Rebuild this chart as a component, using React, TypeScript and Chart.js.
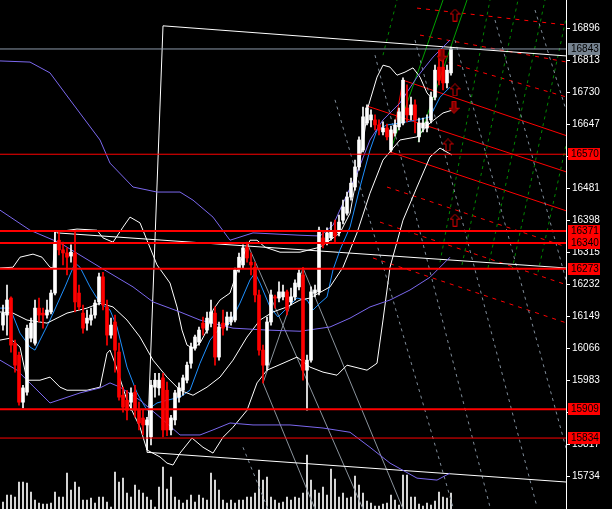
import { useEffect, useRef } from "react";
import { Chart, registerables } from "chart.js";
Chart.register(...registerables);

// ---- candle data (index 0..112) ----
const opens = [16127,16153,16197,16080,16049,15927,15953,16093,16080,16171,16158,16153,16161,16210,16347,16322,16314,16306,16314,16210,16158,16132,16140,16153,16187,16252,16174,16101,16135,16057,15945,15932,15927,15953,15906,15886,15868,15837,15966,15964,15990,15958,15855,15881,15940,15958,15984,16028,16067,16083,16132,16114,16132,16158,16044,16132,16127,16135,16140,16275,16283,16329,16290,16277,16205,16062,16023,16135,16200,16197,16200,16213,16187,16200,16226,16257,16010,16036,16210,16213,16353,16342,16353,16373,16366,16399,16417,16459,16485,16537,16581,16651,16659,16659,16646,16628,16638,16581,16625,16641,16651,16690,16672,16698,16615,16638,16638,16659,16718,16796,16796,16755,16781];
const highs = [16179,16231,16200,16088,16057,15971,16127,16145,16192,16197,16171,16192,16218,16368,16368,16342,16327,16335,16368,16231,16179,16166,16171,16192,16262,16264,16192,16145,16153,16080,15966,15958,15964,15971,15927,15906,15888,15984,16002,16002,16002,15979,15893,15958,15977,15997,16031,16080,16101,16122,16148,16161,16192,16174,16135,16166,16161,16161,16275,16314,16335,16342,16314,16290,16218,16075,16148,16218,16205,16239,16231,16218,16223,16244,16270,16277,16049,16226,16231,16381,16373,16379,16394,16399,16412,16451,16472,16508,16555,16615,16692,16698,16685,16672,16659,16654,16648,16643,16659,16690,16768,16750,16718,16711,16664,16664,16672,16731,16801,16840,16820,16801,16848];
const lows = [16114,16101,16057,16005,15919,15912,15945,16083,16075,16135,16119,16145,16156,16205,16309,16283,16257,16290,16161,16166,16106,16114,16127,16145,16179,16166,16075,16093,16005,15932,15901,15881,15906,15888,15855,15842,15803,15816,15940,15945,15837,15840,15842,15868,15927,15945,15977,16015,16062,16075,16101,16106,16122,16023,16036,16101,16114,16127,16135,16264,16275,16290,16257,16187,16049,15977,16010,16127,16171,16187,16192,16153,16179,16192,16218,15984,15906,16031,16200,16205,16327,16335,16347,16342,16358,16389,16412,16451,16477,16529,16576,16646,16641,16633,16620,16620,16607,16576,16617,16633,16646,16654,16659,16625,16602,16628,16628,16651,16711,16750,16737,16742,16775];
const closes = [16158,16192,16075,16023,15927,15964,16119,16132,16171,16153,16153,16166,16210,16342,16322,16314,16303,16316,16187,16174,16119,16145,16153,16184,16252,16179,16101,16127,16062,15940,15914,15906,15951,15906,15873,15868,15881,15971,15984,15984,15855,15855,15886,15951,15964,15990,16023,16070,16096,16114,16119,16145,16161,16044,16122,16119,16148,16148,16270,16303,16327,16301,16283,16205,16062,16023,16135,16205,16197,16213,16213,16166,16200,16236,16262,16010,16036,16213,16218,16373,16335,16366,16368,16358,16394,16433,16459,16495,16537,16607,16667,16690,16672,16646,16633,16638,16615,16633,16646,16680,16762,16672,16698,16659,16651,16651,16654,16718,16788,16762,16755,16788,16843];
const volumes = [7,14,14,12,27,27,26,17,9,6,5,5,6,17,12,12,36,19,27,22,9,9,11,6,12,12,7,2,37,27,31,16,12,24,19,16,12,9,2,22,42,20,32,12,9,6,9,14,7,14,11,9,36,29,19,9,6,9,6,9,9,12,12,16,39,29,32,12,9,6,7,12,9,12,11,16,54,29,19,16,22,14,40,30,12,16,11,12,33,24,16,8,6,3,3,5,6,14,9,4,34,34,12,12,5,3,6,4,8,17,12,11,16];

// ---- price axis ----
const yTicks = [16896,16813,16730,16647,16564,16481,16398,16315,16232,16149,16066,15983,15900,15817,15734];
const currentPrice = 16843;
const levelValues = [16570,16371,16340,16273,15909,15834];
const levelWidths = [1,2,2,2,2,1];

// ---- indicator lines [index, price] ----
const bbUpper: number[][] = [[-0.75,16275],[2.5,16277],[4.25,16303],[7.5,16311],[9.75,16303],[11.75,16277],[12.5,16275],[13,16368],[18.5,16376],[23.5,16373],[25,16353],[27.5,16342],[30,16381],[31.75,16407],[34.25,16392],[36,16347],[38.5,16283],[41.75,16236],[43.5,16174],[44.75,16114],[46,16075],[47.5,16067],[49.25,16080],[51,16114],[52.5,16166],[54.25,16192],[56.75,16210],[59.25,16288],[61.75,16347],[63.5,16347],[65.5,16329],[69.25,16316],[74.25,16316],[79.25,16329],[81.75,16347],[84.25,16366],[86.75,16417],[90,16599],[91.25,16692],[93.5,16770],[95,16801],[96.75,16796],[98.5,16775],[100.5,16783],[102.5,16794],[104.25,16770],[106,16729],[107.5,16711]];
const bbMiddle: number[][] = [[-0.75,16161],[2.5,16158],[6,16140],[11,16132],[16,16158],[21,16171],[24.25,16184],[27.5,16174],[31,16140],[34.25,16096],[37.5,16036],[41,15992],[44.25,15958],[47.5,15945],[51,15966],[54.25,15992],[57.5,16036],[61,16096],[64.25,16140],[67.5,16161],[71,16174],[74.25,16192],[76.75,16197],[81.75,16226],[85,16277],[88.5,16366],[91.75,16469],[95,16555],[99.25,16607],[103.5,16615],[106.75,16651],[110,16677],[112.5,16685]];
const bbLower: number[][] = [[-0.75,16088],[1.75,16093],[4.25,16070],[6,15984],[9.25,15984],[11.75,15992],[14.25,15966],[16,15958],[21,15958],[24.25,15966],[26,16054],[26.75,16062],[28,16028],[31,15932],[34.25,15862],[36,15803],[39.25,15785],[41,15769],[42.5,15764],[44.25,15795],[47.25,15834],[50,15810],[52.5,15795],[55,15836],[57.5,15862],[61,15906],[63.5,15977],[66,16010],[70,16028],[73.5,16044],[76.75,16018],[80,16005],[83.5,15997],[86,16023],[91,16010],[93.5,16028],[95,16140],[96.75,16277],[100,16399],[103.5,16485],[106.75,16563],[109.25,16586],[112.25,16568]];
const maFast: number[][] = [[-0.75,16171],[1.75,16171],[4.25,16106],[6.75,16070],[8,16062],[11.75,16140],[15.5,16226],[18,16288],[19.25,16277],[21.75,16226],[24.25,16184],[26.75,16166],[28.5,16122],[31,16018],[33.5,15951],[36,15906],[38.5,15925],[41,15932],[44.25,15940],[46.75,15958],[49.25,16028],[51.75,16088],[54.25,16119],[56.75,16132],[59.25,16184],[61.75,16244],[63,16262],[64.25,16236],[66.75,16174],[68.75,16148],[71.75,16179],[73.5,16197],[76,16192],[77.5,16166],[79.25,16184],[81,16200],[82.5,16270],[84.25,16322],[86.75,16381],[89.25,16485],[91.75,16581],[93.5,16633],[96,16646],[99.25,16651],[103.5,16659],[106.75,16667],[109.25,16718],[111.75,16744]];
const longUpper: number[][] = [[-0.75,16812],[6.75,16809],[11.75,16781],[16.75,16711],[24.25,16607],[26.75,16547],[32.5,16485],[38.5,16472],[44.25,16472],[47.5,16451],[52.5,16407],[56.75,16347],[62.5,16366],[74.25,16360],[79.25,16358],[82.5,16386],[85,16443],[88.5,16521],[91.75,16607],[95,16659],[99.25,16703],[103.5,16770],[107.5,16822],[111.75,16866]];
const longMiddle: number[][] = [[-0.75,16425],[6.75,16373],[14.25,16340],[24.25,16277],[32.5,16226],[37.5,16187],[44.25,16161],[49.25,16140],[57.5,16119],[66,16114],[74.25,16111],[81.75,16122],[86.75,16145],[91.75,16174],[96.75,16192],[101.75,16218],[106.75,16251],[111.75,16303]];
const longLower: number[][] = [[-0.75,16036],[3.5,16010],[11.75,15925],[19.25,15951],[24.25,15964],[26.75,15977],[29.25,15966],[34.25,15932],[39.25,15888],[44.25,15842],[49.25,15842],[52.5,15855],[56.75,15873],[62.5,15868],[71.75,15868],[80,15860],[86.75,15849],[91.75,15810],[96.75,15769],[103.5,15730],[108.5,15725],[111.75,15743]];

// ---- drawn objects [index, price, index, price, ...] ----
const whiteTrendLines: number[][] = [[13.5,16366,140.75,16275],[36,15797,40,16903,140.75,16825],[36,15797,140.75,15720]];
const graySolidLines: number[][] = [[61,16340,90,15650],[75,16275,100,15650],[65,15977,75,16275],[65,15977,78,15650]];
const grayDashedLines: number[][] = [[60,15810,66.25,15650],[83,16711,112.5,15655],[93,16827,121.75,15655],[103,16866,133.5,15655],[113,16866,142.25,15751],[123,16918,140.75,16244],[133,16944,140.75,16685]];
const greenSolidLines: number[][] = [[96.75,16576,110,16970],[103.75,16602,116,16970]];
const greenDashedLines: number[][] = [[109.25,16290,121.75,16970],[114.75,16283,128.75,16970],[121.25,16275,135.5,16970],[127.25,16270,141.75,16970],[133.75,16264,148.75,16970],[95,16827,98.5,16970]];
const redSolidLines: number[][] = [[100,16762,141.75,16615],[91,16695,141.75,16521],[96.75,16576,141.75,16420],[96.75,16576,100,16762]];
const redDashedLines: number[][] = [[103.5,16949,141,16905],[104.25,16879,141,16809],[109.25,16814,141,16718],[96,16485,141,16329],[94.25,16394,141,16231],[92.5,16301,141,16132]];
const upArrows: number[][] = [[113,16931],[113,16737],[111.25,16594],[113,16399]];
const downArrows: number[][] = [[109.75,16827],[112.75,16692]];

const X_MIN = -0.75;
const X_MAX = 140.75;

function flat(arr: number[]) {
  const pts: { x: number; y: number }[] = [];
  for (let k = 0; k < arr.length; k += 2) pts.push({ x: arr[k], y: arr[k + 1] });
  return pts;
}

function makeArrow(down: boolean) {
  const c = document.createElement("canvas");
  c.width = 11;
  c.height = 13;
  const g = c.getContext("2d")!;
  if (down) {
    g.translate(0, 13);
    g.scale(1, -1);
  }
  g.beginPath();
  g.moveTo(5.5, 0.5);
  g.lineTo(10.5, 5.5);
  g.lineTo(7.5, 5.5);
  g.lineTo(7.5, 12.5);
  g.lineTo(3.5, 12.5);
  g.lineTo(3.5, 5.5);
  g.lineTo(0.5, 5.5);
  g.closePath();
  g.fillStyle = down ? "#7a0000" : "#000000";
  g.fill();
  g.strokeStyle = "#d00000";
  g.lineWidth = 1;
  g.stroke();
  return c;
}

export default function App() {
  const ref = useRef<HTMLCanvasElement | null>(null);

  useEffect(() => {
    document.body.style.margin = "0";
    document.body.style.background = "#000";
    const canvas = ref.current;
    if (!canvas) return;

    const line = (pts: { x: number; y: number }[], color: string, width: number, dash: number[] = [], order = 5) => ({
      type: "line" as const,
      data: pts,
      borderColor: color,
      borderWidth: width,
      borderDash: dash,
      pointRadius: 0,
      pointHoverRadius: 0,
      fill: false,
      tension: 0,
      order,
      xAxisID: "x",
      yAxisID: "y",
    });
    const toPts = (a: number[][]) => a.map(([x, y]) => ({ x, y }));

    const up = (i: number) => closes[i] >= opens[i];
    const datasets: any[] = [];

    datasets.push({
      type: "bar",
      data: volumes.map((v, i) => ({ x: i, y: v })),
      backgroundColor: "#ffffff",
      barThickness: 1,
      grouped: false,
      yAxisID: "yv",
      xAxisID: "x",
      order: 20,
    });

    [[whiteTrendLines, "#ffffff", 1, []], [graySolidLines, "#8a939c", 1, []], [grayDashedLines, "#7f8c99", 1, [3, 4]],
     [greenSolidLines, "#00a000", 1, []], [greenDashedLines, "#008800", 1, [3, 4]],
     [redSolidLines, "#ff0000", 1, []], [redDashedLines, "#ff0000", 1, [4, 5]]].forEach(([arr, col, w, d]: any) => {
      (arr as number[][]).forEach((seg) => datasets.push(line(flat(seg), col, w, d, 12)));
    });

    datasets.push(line(toPts(longUpper), "#7b68ee", 1, [], 8));
    datasets.push(line(toPts(longMiddle), "#7b68ee", 1, [], 8));
    datasets.push(line(toPts(longLower), "#7b68ee", 1, [], 8));
    datasets.push(line(toPts(bbUpper), "#ffffff", 1, [], 8));
    datasets.push(line(toPts(bbMiddle), "#ffffff", 1, [], 8));
    datasets.push(line(toPts(bbLower), "#ffffff", 1, [], 8));
    datasets.push(line(toPts(maFast), "#1e90ff", 1, [], 8));

    datasets.push({
      type: "bar",
      data: opens.map((_, i) => ({ x: i, y: [lows[i], highs[i]] })),
      backgroundColor: opens.map((_, i) => (up(i) ? "#ffffff" : "#ff0000")),
      barThickness: 1,
      grouped: false,
      order: 3,
      xAxisID: "x",
      yAxisID: "y",
    });
    datasets.push({
      type: "bar",
      data: opens.map((o, i) => ({ x: i, y: [o, closes[i]] })),
      backgroundColor: opens.map((_, i) => (up(i) ? "#ffffff" : "#ff0000")),
      barThickness: 3,
      minBarLength: 1,
      grouped: false,
      order: 2,
      xAxisID: "x",
      yAxisID: "y",
    });

    datasets.push(line([{ x: X_MIN, y: currentPrice }, { x: X_MAX, y: currentPrice }], "#8c9aaa", 1, [], 1));
    levelValues.forEach((v, k) =>
      datasets.push(line([{ x: X_MIN, y: v }, { x: X_MAX, y: v }], "#ff0000", levelWidths[k], [], 1))
    );

    const upImg = makeArrow(false);
    const downImg = makeArrow(true);
    datasets.push({
      type: "scatter",
      data: toPts(upArrows),
      pointStyle: upImg,
      order: 0,
      xAxisID: "x",
      yAxisID: "y",
    });
    datasets.push({
      type: "scatter",
      data: toPts(downArrows),
      pointStyle: downImg,
      order: 0,
      xAxisID: "x",
      yAxisID: "y",
    });

    const bg = {
      id: "bg",
      beforeDraw(c: any) {
        const ctx = c.ctx;
        ctx.save();
        ctx.fillStyle = "#000";
        ctx.fillRect(0, 0, c.width, c.height);
        ctx.restore();
      },
    };
    const labels = {
      id: "labels",
      afterDraw(c: any) {
        const ctx = c.ctx;
        const ys = c.scales.y;
        const left = ys.left + 2;
        ctx.save();
        ctx.font = "10px 'Liberation Sans'";
        ctx.textBaseline = "middle";
        ctx.textAlign = "left";
        const box = (v: number, fill: string) => {
          const y = Math.round(ys.getPixelForValue(v));
          ctx.fillStyle = fill;
          ctx.fillRect(left, y - 6, 32, 12);
          ctx.fillStyle = "#000";
          ctx.fillText(String(v), left + 3, y + 0.5);
        };
        box(currentPrice, "#75828f");
        levelValues.forEach((v) => box(v, "#ff0000"));
        ctx.restore();
      },
    };

    const chart = new Chart(canvas, {
      type: "bar",
      data: { datasets },
      options: {
        responsive: false,
        animation: false,
        events: [],
        layout: { padding: 0, autoPadding: false },
        plugins: { legend: { display: false }, tooltip: { enabled: false } },
        scales: {
          x: { type: "linear", min: X_MIN, max: X_MAX, display: false, offset: false },
          y: {
            type: "linear",
            position: "right",
            min: 15650,
            max: 16970,
            afterBuildTicks: (s: any) => {
              s.ticks = yTicks.map((v) => ({ value: v }));
            },
            afterFit: (s: any) => {
              s.width = 46;
              s.paddingTop = 0;
              s.paddingBottom = 0;
            },
            ticks: {
              color: "#ffffff",
              font: { family: "'Liberation Sans'", size: 10 },
              padding: 2,
              autoSkip: false,
              callback: (v: any) => String(v),
            },
            grid: { drawOnChartArea: false, drawTicks: true, tickLength: 4, color: "#ffffff" },
            border: { display: true, color: "#ffffff" },
          },
          yv: { type: "linear", display: false, min: 0, max: 509 },
        },
      },
      plugins: [bg, labels],
    } as any);
    return () => chart.destroy();
  }, []);

  return (
    <div style={{ width: 612, height: 509, background: "#000" }}>
      <canvas ref={ref} width={612} height={509} style={{ display: "block" }} />
    </div>
  );
}
